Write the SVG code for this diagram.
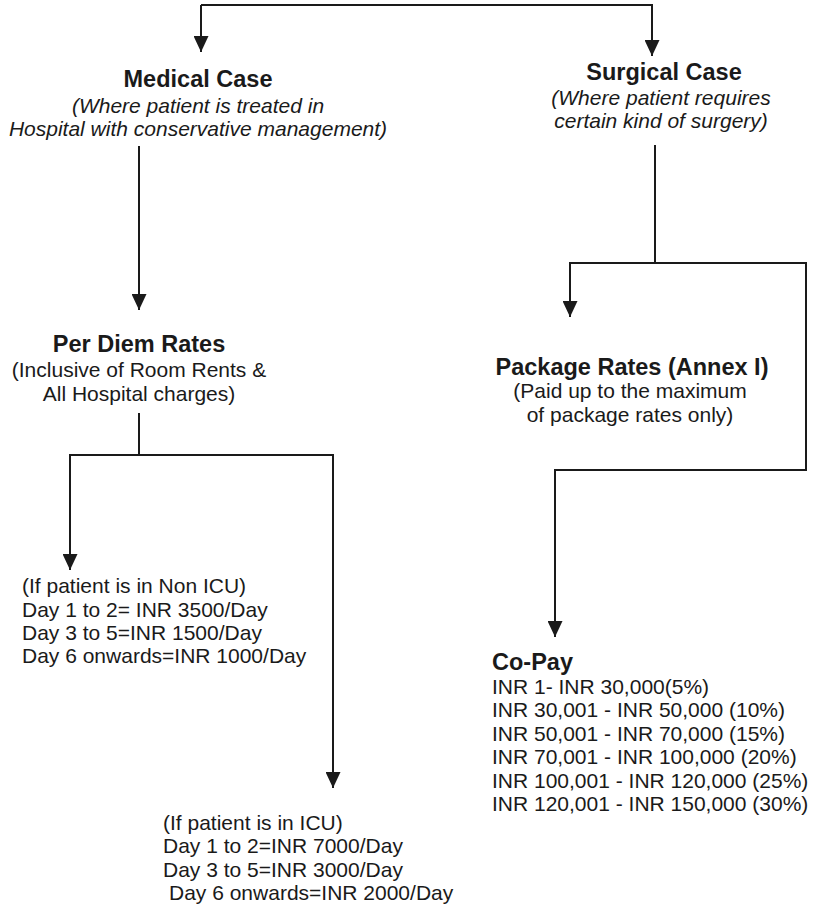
<svg xmlns="http://www.w3.org/2000/svg" width="817" height="906" viewBox="0 0 817 906">
  <defs>
    <marker id="arrow" markerUnits="userSpaceOnUse" markerWidth="16" markerHeight="15" viewBox="0 0 16 15" refX="16" refY="7.5" orient="auto">
      <path d="M0,0 L16,7.5 L0,15 z" fill="#1a1a1a"/>
    </marker>
  </defs>
  <style>
    text { font-family: "Liberation Sans", Arial, sans-serif; fill: #1a1a1a; }
    .t { font-size: 23.5px; font-weight: bold; }
    .i { font-size: 21px; font-style: italic; }
    .r { font-size: 21px; }
    .c { text-anchor: middle; }
    .conn path { fill: none; stroke: #1a1a1a; stroke-width: 2; }
  </style>
  <rect width="817" height="906" fill="#ffffff"/>
  <g id="connectors" class="conn">
    <path d="M201,5 L652,5 L652,56" marker-end="url(#arrow)"/>
    <path d="M201,5 L201,52" marker-end="url(#arrow)"/>
    <path d="M139,146 L139,310" marker-end="url(#arrow)"/>
    <path d="M139,413 L139,455 L70,455 L70,570" marker-end="url(#arrow)"/>
    <path d="M139,455 L333,455 L333,788" marker-end="url(#arrow)"/>
    <path d="M655,145 L655,263 L570,263 L570,317" marker-end="url(#arrow)"/>
    <path d="M655,263 L806,263 L806,470 L555,470 L555,637" marker-end="url(#arrow)"/>
  </g>
  <g id="medical-case">
    <text class="t c" x="198" y="87">Medical Case</text>
    <text class="i c" x="198" y="113">(Where patient is treated in</text>
    <text class="i c" x="198" y="136">Hospital with conservative management)</text>
  </g>
  <g id="surgical-case">
    <text class="t c" x="664" y="80">Surgical Case</text>
    <text class="i c" x="661" y="105">(Where patient requires</text>
    <text class="i c" x="661" y="128">certain kind of surgery)</text>
  </g>
  <g id="per-diem-rates">
    <text class="t c" x="139" y="352">Per Diem Rates</text>
    <text class="r c" x="139" y="377">(Inclusive of Room Rents &amp;</text>
    <text class="r c" x="139" y="401">All Hospital charges)</text>
  </g>
  <g id="package-rates">
    <text class="t c" x="632" y="375">Package Rates (Annex I)</text>
    <text class="r c" x="630" y="398">(Paid up to the maximum</text>
    <text class="r c" x="630" y="422">of package rates only)</text>
  </g>
  <g id="non-icu">
    <text class="r" x="22" y="593">(If patient is in Non ICU)</text>
    <text class="r" x="22" y="617">Day 1 to 2= INR 3500/Day</text>
    <text class="r" x="22" y="640">Day 3 to 5=INR 1500/Day</text>
    <text class="r" x="22" y="663">Day 6 onwards=INR 1000/Day</text>
  </g>
  <g id="icu">
    <text class="r" x="163" y="830">(If patient is in ICU)</text>
    <text class="r" x="163" y="853">Day 1 to 2=INR 7000/Day</text>
    <text class="r" x="163" y="877">Day 3 to 5=INR 3000/Day</text>
    <text class="r" x="169" y="900">Day 6 onwards=INR 2000/Day</text>
  </g>
  <g id="co-pay">
    <text class="t" x="492" y="670">Co-Pay</text>
    <text class="r" x="492" y="694">INR 1- INR 30,000(5%)</text>
    <text class="r" x="492" y="717">INR 30,001 - INR 50,000 (10%)</text>
    <text class="r" x="492" y="741">INR 50,001 - INR 70,000 (15%)</text>
    <text class="r" x="492" y="764">INR 70,001 - INR 100,000 (20%)</text>
    <text class="r" x="492" y="788">INR 100,001 - INR 120,000 (25%)</text>
    <text class="r" x="492" y="811">INR 120,001 - INR 150,000 (30%)</text>
  </g>
</svg>
